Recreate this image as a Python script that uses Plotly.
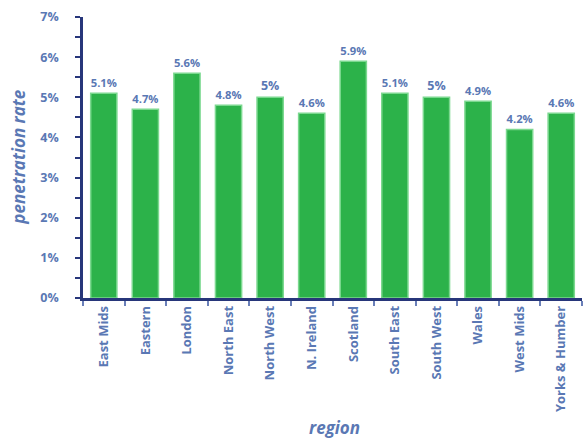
import plotly.graph_objects as go

regions = ["East Mids", "Eastern", "London", "North East", "North West", "N. Ireland",
           "Scotland", "South East", "South West", "Wales", "West Mids", "Yorks & Humber"]
rates = [5.1, 4.7, 5.6, 4.8, 5.0, 4.6, 5.9, 5.1, 5.0, 4.9, 4.2, 4.6]
labels = ["5.1%", "4.7%", "5.6%", "4.8%", "5%", "4.6%", "5.9%", "5.1%", "5%", "4.9%", "4.2%", "4.6%"]
y_ticks = [0, 1, 2, 3, 4, 5, 6, 7]
y_tick_text = ["0%", "1%", "2%", "3%", "4%", "5%", "6%", "7%"]

TEXT = "#5a78b4"
AXIS = "#27367a"
FONT = "'Open Sans', sans-serif"

fig = go.Figure(go.Bar(
    x=regions, y=rates,
    text=labels, textposition="outside", cliponaxis=False,
    textfont=dict(family=FONT, size=12.5, color=TEXT, weight=700),
    marker=dict(color="#2cb24a", line=dict(color="#7bd88f", width=1.5)),
))

fig.update_layout(
    width=583, height=440,
    margin=dict(l=83, r=1, t=17, b=142),
    paper_bgcolor="white", plot_bgcolor="white",
    bargap=0.37, showlegend=False,
    font=dict(family=FONT, color=TEXT),
)

fig.update_yaxes(
    range=[0, 7], tickvals=y_ticks, ticktext=y_tick_text,
    showgrid=False, zeroline=False, automargin=False,
    showline=True, linecolor=AXIS, linewidth=2.5,
    ticks="outside", ticklen=5, tickwidth=2, tickcolor=AXIS,
    minor=dict(dtick=0.5, ticks="outside", ticklen=5, tickwidth=2, tickcolor=AXIS),
    ticklabelstandoff=14,
    tickfont=dict(family=FONT, size=12.5, color=TEXT, weight=700),
)

fig.update_xaxes(
    tickangle=-90, tickson="boundaries", automargin=False,
    showgrid=False, showline=True, linecolor=AXIS, linewidth=2.5,
    ticks="outside", ticklen=5, tickwidth=2, tickcolor="#6a7fb8",
    tickfont=dict(family=FONT, size=13, color=TEXT, weight=700),
)

# axis titles placed as annotations so the plot area stays fixed
fig.add_annotation(text="<i>penetration rate</i>", xref="paper", yref="paper",
                   x=-0.13, y=0.5, textangle=-90, showarrow=False,
                   xanchor="center", yanchor="middle",
                   font=dict(family=FONT, size=17, color=TEXT, weight=700))
fig.add_annotation(text="<i>region</i>", xref="paper", yref="paper",
                   x=0.505, y=-0.46, showarrow=False,
                   xanchor="center", yanchor="middle",
                   font=dict(family=FONT, size=17, color=TEXT, weight=700))

fig.write_html("out.html")
